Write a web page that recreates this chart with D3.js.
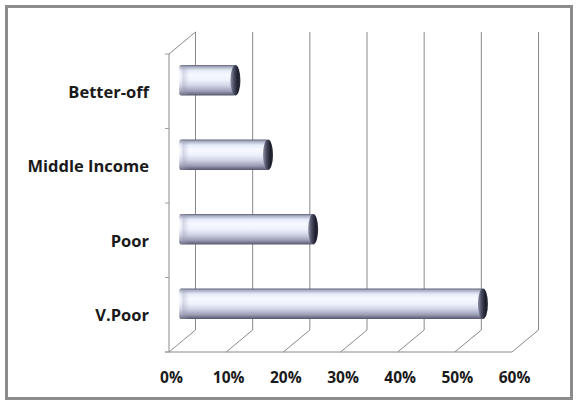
<!DOCTYPE html>
<html>
<head>
<meta charset="utf-8">
<script src="https://cdn.jsdelivr.net/npm/d3@7"></script>
<style>
  html, body { margin: 0; padding: 0; background: #fff; }
  svg { display: block; }
</style>
</head>
<body>
<script>
// ---- data ----
const categories = ["Better-off", "Middle Income", "Poor", "V.Poor"];
const values = [0.093, 0.150, 0.229, 0.526];
const xTicks = [0, 0.1, 0.2, 0.3, 0.4, 0.5, 0.6];
const xTickLabels = ["0%", "10%", "20%", "30%", "40%", "50%", "60%"];

const W = 577, H = 404;
const svg = d3.select("body").append("svg").attr("width", W).attr("height", H);

// frame
svg.append("rect").attr("x", 6.5).attr("y", 6.5).attr("width", 565).attr("height", 392)
  .attr("fill", "#fff").attr("stroke", "#8c8c8c").attr("stroke-width", 3);

// 3D geometry
const depthX = 26.5, depthY = -22;
const x = d3.scaleLinear().domain([0, 0.6]).range([169, 512]);
const y = d3.scaleBand().domain(categories).range([54, 352]).padding(0);

const g = svg.append("g");
const gridColor = "#8a8a8a";

// back wall gridlines
g.selectAll(".grid").data(xTicks).join("line")
  .attr("x1", d => x(d) + depthX).attr("x2", d => x(d) + depthX)
  .attr("y1", y.range()[0] + depthY).attr("y2", y.range()[1] + depthY)
  .attr("stroke", gridColor).attr("stroke-width", 1);

// floor diagonals
g.selectAll(".diag").data(xTicks).join("line")
  .attr("x1", d => x(d)).attr("y1", y.range()[1])
  .attr("x2", d => x(d) + depthX).attr("y2", y.range()[1] + depthY)
  .attr("stroke", gridColor).attr("stroke-width", 1);

// left wall top diagonal
g.append("line")
  .attr("x1", x(0)).attr("y1", y.range()[0])
  .attr("x2", x(0) + depthX).attr("y2", y.range()[0] + depthY)
  .attr("stroke", gridColor);

// front vertical axis line
g.append("line")
  .attr("x1", x(0)).attr("x2", x(0))
  .attr("y1", y.range()[0]).attr("y2", y.range()[1])
  .attr("stroke", gridColor);
// front floor line
g.append("line")
  .attr("x1", x(0) - 4).attr("x2", x(0.6))
  .attr("y1", y.range()[1]).attr("y2", y.range()[1])
  .attr("stroke", gridColor);
// category ticks at band edges
const edges = categories.map(c => y(c)).concat([y.range()[1]]);
g.selectAll(".ctick").data(edges).join("line")
  .attr("x1", x(0) - 4).attr("x2", x(0))
  .attr("y1", d => d).attr("y2", d => d)
  .attr("stroke", "#a0a0a0");

// gradients
const defs = svg.append("defs");
const bodyGrad = defs.append("linearGradient").attr("id", "body")
  .attr("x1", 0).attr("y1", 0).attr("x2", 0).attr("y2", 1);
[[0, "#5e6078"], [0.06, "#a8acc0"], [0.18, "#e6ebfa"], [0.32, "#f7f9ff"], [0.5, "#eef2fd"],
 [0.68, "#d0d3e6"], [0.86, "#9c9db6"], [1, "#55566c"]]
  .forEach(([o, c]) => bodyGrad.append("stop").attr("offset", o).attr("stop-color", c));
const capGrad = defs.append("linearGradient").attr("id", "cap")
  .attr("x1", 0).attr("y1", 0).attr("x2", 1).attr("y2", 0);
[[0, "#8e90a6"], [0.35, "#4a4c60"], [0.75, "#1c1e2c"], [1, "#30323f"]]
  .forEach(([o, c]) => capGrad.append("stop").attr("offset", o).attr("stop-color", c));
const leftGrad = defs.append("linearGradient").attr("id", "leftend")
  .attr("x1", 0).attr("y1", 0).attr("x2", 1).attr("y2", 0);
[[0, "#ffffff", 0.0], [0.4, "#9a9cb2", 0.35], [1, "#9a9cb2", 0]]
  .forEach(([o, c, a]) => leftGrad.append("stop").attr("offset", o).attr("stop-color", c).attr("stop-opacity", a));

// bars (cylinders at mid-depth)
const barH = y.bandwidth() * 0.41;
const rx = 5;
const bars = g.selectAll(".bar").data(categories.map((c, i) => ({ c, v: values[i] }))).join("g");
const cy = d => y(d.c) + y.bandwidth() / 2 + depthY / 2;
const bx0 = x(0) + depthX / 2;
const bx1 = d => x(d.v) + depthX / 2;

bars.append("rect")
  .attr("x", bx0 - 3)
  .attr("y", d => cy(d) - barH / 2)
  .attr("width", d => bx1(d) - bx0 + 3)
  .attr("height", barH)
  .attr("rx", 2).attr("ry", 3)
  .attr("fill", "url(#body)");
bars.append("rect")
  .attr("x", bx0 - 3)
  .attr("y", d => cy(d) - barH / 2)
  .attr("width", 10)
  .attr("height", barH)
  .attr("fill", "url(#leftend)");
bars.append("ellipse")
  .attr("cx", d => bx1(d))
  .attr("cy", d => cy(d))
  .attr("rx", rx).attr("ry", barH / 2)
  .attr("fill", "url(#cap)");

// x axis labels
const xAxis = d3.axisBottom(x).tickValues(xTicks)
  .tickFormat((d, i) => xTickLabels[i]).tickSize(0).tickPadding(20);
const xa = svg.append("g").attr("transform", `translate(2, ${y.range()[1]})`).call(xAxis);
xa.select(".domain").remove();
xa.selectAll("text").attr("font-family", "'Open Sans', sans-serif").attr("font-weight", 700)
  .attr("font-size", 15.5).attr("fill", "#1a1a1a");

// y axis labels
const yAxis = d3.axisLeft(y).tickSize(0).tickPadding(20);
const ya = svg.append("g").attr("transform", `translate(${x(0)}, 1)`).call(yAxis);
ya.select(".domain").remove();
ya.selectAll("text").attr("font-family", "'Open Sans', sans-serif").attr("font-weight", 700)
  .attr("font-size", 16.5).attr("fill", "#1a1a1a");
</script>
</body>
</html>
